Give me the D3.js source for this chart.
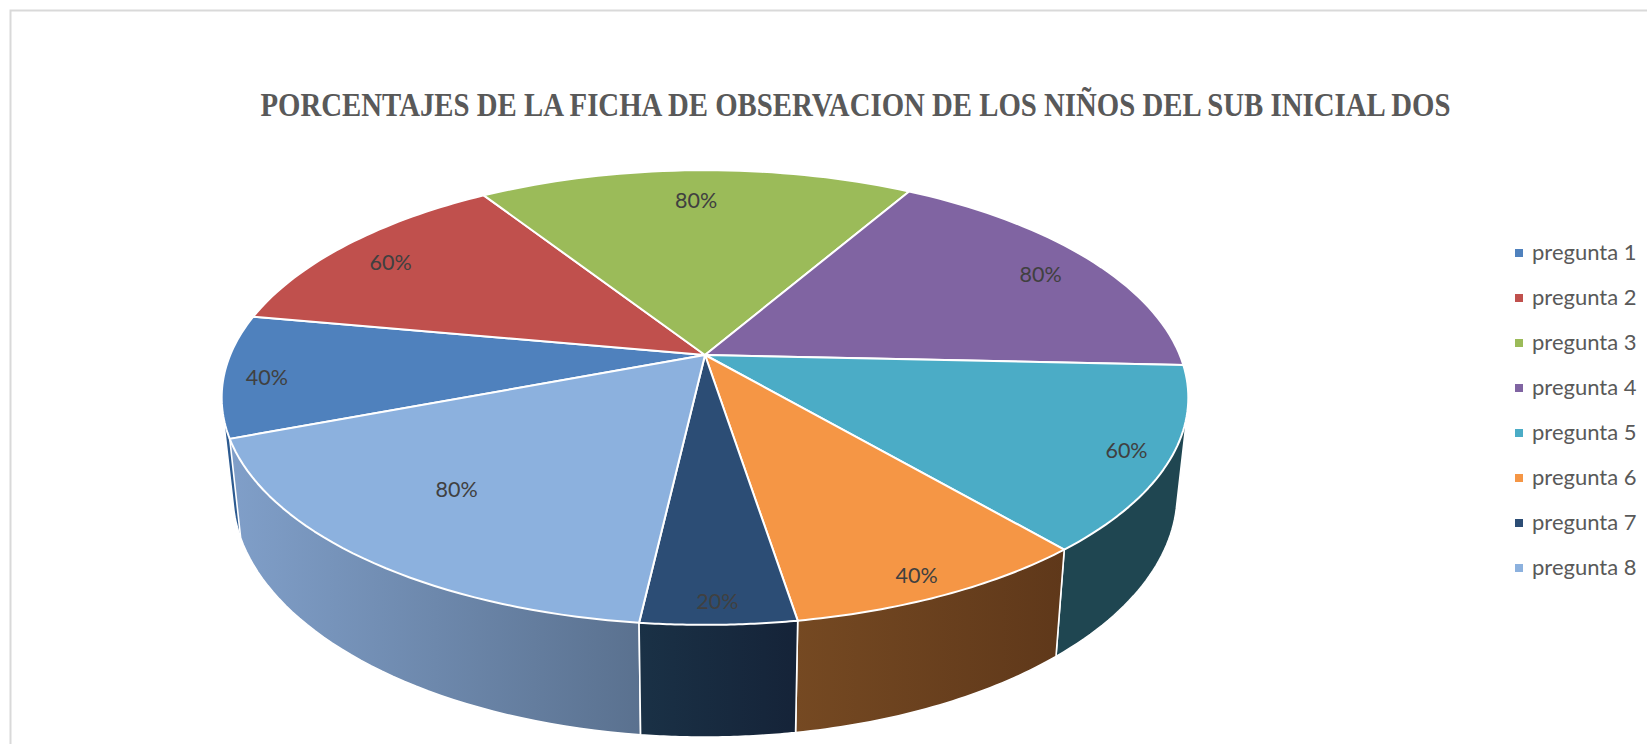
<!DOCTYPE html>
<html>
<head>
<meta charset="utf-8">
<script src="https://cdnjs.cloudflare.com/ajax/libs/d3/7.8.5/d3.min.js"></script>
<style>
    html, body { margin: 0; padding: 0; background: #fff; overflow: hidden; }
</style>
</head>
<body>
<div id="chart-area"></div>
<script>
var chartTitle = "PORCENTAJES DE LA FICHA DE OBSERVACION DE LOS NIÑOS DEL SUB INICIAL DOS";
var categories = ["pregunta 1", "pregunta 2", "pregunta 3", "pregunta 4", "pregunta 5", "pregunta 6", "pregunta 7", "pregunta 8"];
var values = [40, 60, 80, 80, 60, 40, 20, 80];

var topColors = ["#4f81bd", "#c0504d", "#9bbb59", "#8064a2", "#4bacc6", "#f59645", "#2c4d75", "#8cb1de"];
// Wall shades, left and right end of each gradient
var wallLeft = ["#2c5a90", "#7a2f2d", "#5d7035", "#4c3c61", "#1f4651", "#754922", "#1a3146", "#809fc9"];
var wallRight = ["#2c5a90", "#7a2f2d", "#5d7035", "#4c3c61", "#1f4651", "#5f381a", "#152338", "#5a718f"];
// Excel placed each label by hand-ish, so keep the radial fraction and a nudge per slice
var labelFraction = [0.91, 0.855, 0.82, 0.858, 0.914, 0.925, 0.93, 0.72];
var labelNudgeX = [-1, -5, -1, 4, 0, -7, 0, -14];
var labelNudgeY = [4, 3, 1, 3, 0, 2, 0, -5];

var width = 1647, height = 744;

// Perspective of the pie: the apex sits above the middle of the ellipse
var pie3d = {
    cx: 705, topY: 355, bottomY: 448,
    rx: 474.8, topRy: 219.4, bottomRy: 235,
    bottomShrink: 0.977, tilt: 0.187
};
var firstSliceAngle = -110.9 * Math.PI / 180;

function project(angle, fraction, bottom) {
    var X = Math.sin(angle) * fraction,
        Y = -Math.cos(angle) * fraction,
        w = 1 - pie3d.tilt * Y,
        sx = bottom ? pie3d.bottomShrink : 1;
    return [
        pie3d.cx + sx * pie3d.rx * X / w,
        (bottom ? pie3d.bottomY : pie3d.topY) + (bottom ? pie3d.bottomRy : pie3d.topRy) * Y / w
    ];
}

function arcPoints(d, bottom) {
    var span = d.endAngle - d.startAngle;
    return d3.range(0, 41).map(function(i) {
        return project(d.startAngle + span * i / 40, 1, bottom);
    });
}

var color = d3.scaleOrdinal().domain(categories).range(topColors);
var line = d3.line();

var svg = d3.select("#chart-area").append("svg")
    .attr("width", width)
    .attr("height", height)
    .style("display", "block");

// Frame, only the top and left edges are inside the picture
svg.append("rect")
    .attr("x", 10.5)
    .attr("y", 10.5)
    .attr("width", width + 40)
    .attr("height", height + 40)
    .attr("fill", "#fff")
    .attr("stroke", "#d9d9d9")
    .attr("stroke-width", 2);

svg.append("text")
    .attr("x", 855.5)
    .attr("y", 116)
    .attr("text-anchor", "middle")
    .attr("font-family", "'Liberation Serif', serif")
    .attr("font-weight", "bold")
    .attr("font-size", 33)
    .attr("fill", "#595959")
    .attr("textLength", 1190)
    .attr("lengthAdjust", "spacingAndGlyphs")
    .text(chartTitle);

var pieLayout = d3.pie()
    .sort(null)
    .value(function(d) { return d.value; })
    .startAngle(firstSliceAngle)
    .endAngle(firstSliceAngle + 2 * Math.PI);

var slices = pieLayout(categories.map(function(c, i) {
    return { name: c, value: values[i], index: i };
}));

function midAngle(d) { return (d.startAngle + d.endAngle) / 2; }

// Gradients for the side walls
var defs = svg.append("defs");
var grads = defs.selectAll("linearGradient")
    .data(slices)
    .join("linearGradient")
    .attr("id", function(d) { return "wall" + d.data.index; });
grads.append("stop").attr("offset", "0%")
    .attr("stop-color", function(d) { return wallLeft[d.data.index]; });
grads.append("stop").attr("offset", "100%")
    .attr("stop-color", function(d) { return wallRight[d.data.index]; });

// Walls go back to front, then the top faces cover what is behind
var wallOrder = slices.slice().sort(function(a, b) {
    return d3.ascending(-Math.cos(midAngle(a)), -Math.cos(midAngle(b)));
});

// Hull of both arcs, so the wall reaches the tangent edge at the sides
svg.append("g")
    .attr("class", "walls")
    .selectAll("path")
    .data(wallOrder)
    .join("path")
    .attr("d", function(d) {
        return line(d3.polygonHull(arcPoints(d, false).concat(arcPoints(d, true)))) + "Z";
    })
    .attr("fill", function(d) { return "url(#wall" + d.data.index + ")"; })
    .attr("stroke", "#fff")
    .attr("stroke-width", 1.6)
    .attr("stroke-linejoin", "round");

svg.append("g")
    .attr("class", "tops")
    .selectAll("path")
    .data(slices)
    .join("path")
    .attr("d", function(d) {
        return line([project(0, 0, false)].concat(arcPoints(d, false))) + "Z";
    })
    .attr("fill", function(d) { return color(d.data.name); })
    .attr("stroke", "#fff")
    .attr("stroke-width", 2)
    .attr("stroke-linejoin", "round");

svg.append("g")
    .attr("class", "labels")
    .selectAll("text")
    .data(slices)
    .join("text")
    .attr("x", function(d) {
        return project(midAngle(d), labelFraction[d.data.index], false)[0] + labelNudgeX[d.data.index];
    })
    .attr("y", function(d) {
        return project(midAngle(d), labelFraction[d.data.index], false)[1] + labelNudgeY[d.data.index];
    })
    .attr("dy", "0.35em")
    .attr("text-anchor", "middle")
    .attr("font-family", "Lato, sans-serif")
    .attr("font-size", 21.5)
    .attr("fill", "#404040")
    .text(function(d) { return d.data.value + "%"; });

// Legend
var legendY = d3.scalePoint().domain(categories).range([253, 568]);

var legend = svg.append("g")
    .attr("class", "legend")
    .selectAll("g")
    .data(categories)
    .join("g")
    .attr("transform", function(d) { return "translate(1515," + legendY(d) + ")"; });

legend.append("rect")
    .attr("y", -4)
    .attr("width", 8)
    .attr("height", 8)
    .attr("fill", function(d) { return color(d); });

legend.append("text")
    .attr("x", 17)
    .attr("dy", "0.32em")
    .attr("font-family", "Lato, sans-serif")
    .attr("font-size", 22)
    .attr("fill", "#595959")
    .text(function(d) { return d; });
</script>
</body>
</html>
